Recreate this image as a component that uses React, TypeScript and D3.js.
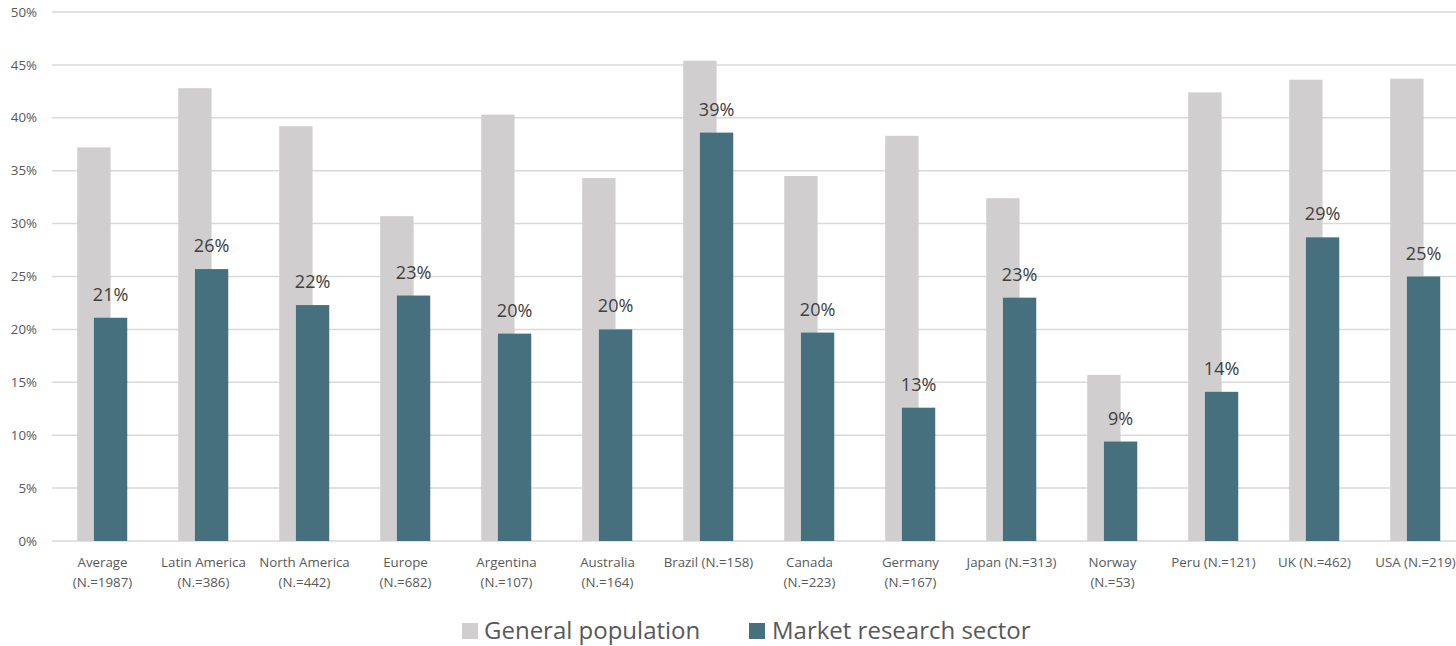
import React from 'react';
import * as d3 from 'd3';

const categories = [
  'Average (N.=1987)', 'Latin America (N.=386)', 'North America (N.=442)', 'Europe (N.=682)',
  'Argentina (N.=107)', 'Australia (N.=164)', 'Brazil (N.=158)', 'Canada (N.=223)',
  'Germany (N.=167)', 'Japan (N.=313)', 'Norway (N.=53)', 'Peru (N.=121)', 'UK (N.=462)', 'USA (N.=219)'
];

// how Excel wrapped the tick labels
const tickLines = [
  ['Average', '(N.=1987)'], ['Latin America', '(N.=386)'], ['North America', '(N.=442)'], ['Europe', '(N.=682)'],
  ['Argentina', '(N.=107)'], ['Australia', '(N.=164)'], ['Brazil (N.=158)'], ['Canada', '(N.=223)'],
  ['Germany', '(N.=167)'], ['Japan (N.=313)'], ['Norway', '(N.=53)'], ['Peru (N.=121)'], ['UK (N.=462)'], ['USA (N.=219)']
];

const generalPopulation = [0.372, 0.428, 0.392, 0.307, 0.403, 0.343, 0.454, 0.345, 0.383, 0.324, 0.157, 0.424, 0.436, 0.437];
const marketResearch = [0.211, 0.257, 0.223, 0.232, 0.196, 0.200, 0.386, 0.197, 0.126, 0.230, 0.094, 0.141, 0.287, 0.250];

const yTicks = [0, 0.05, 0.1, 0.15, 0.2, 0.25, 0.3, 0.35, 0.4, 0.45, 0.5];

const W = 1456;
const H = 646;
const GRAY = '#d0cece';
const TEAL = '#46707e';
const TEXT = '#595959';
const FONT = '"Open Sans", "Liberation Sans", sans-serif';

export default function App() {
  const x = d3.scaleBand<string>()
    .domain(categories)
    .range([52, 52 + 101 * categories.length])
    .padding(0);

  const y = d3.scaleLinear()
    .domain([0, 0.5])
    .range([541, 12]);

  const step = x.bandwidth();
  const barW = step * 0.33;
  const grayOff = step * 0.25;   // gray bar starts this far from band start
  const tealOff = grayOff + barW / 2;

  const pct = d3.format('.0%');

  return (
    <svg width={W} height={H} style={{ position: 'absolute', left: 0, top: 0, background: '#fff' }}>
      {/* grid */}
      {yTicks.map(t => (
        <g key={t}>
          <line x1={52} x2={W} y1={y(t)} y2={y(t)} stroke="#d9d9d9" strokeWidth={1.5} />
          <text x={37} y={y(t)} dy="0.35em" textAnchor="end" fontFamily={FONT} fontSize={13.3} fill={TEXT}>
            {pct(t)}
          </text>
        </g>
      ))}

      {/* bars */}
      {categories.map((c, i) => {
        const x0 = x(c)!;
        const gv = generalPopulation[i];
        const mv = marketResearch[i];
        return (
          <g key={c}>
            <rect x={x0 + grayOff} y={y(gv)} width={barW} height={y(0) - y(gv)} fill={GRAY} />
            <rect x={x0 + tealOff} y={y(mv)} width={barW} height={y(0) - y(mv)} fill={TEAL} />
            <text
              x={x0 + tealOff + barW / 2}
              y={y(mv) - 17}
              textAnchor="middle"
              fontFamily={FONT}
              fontSize={18}
              fill="#404040">
              {pct(mv)}
            </text>
          </g>
        );
      })}

      {/* x tick labels */}
      {categories.map((c, i) => (
        <text key={c} x={x(c)! + step / 2} y={567} textAnchor="middle" fontFamily={FONT} fontSize={13.3} fill={TEXT}>
          {tickLines[i].map((l, j) => (
            <tspan key={j} x={x(c)! + step / 2} dy={j === 0 ? 0 : 19.5}>{l}</tspan>
          ))}
        </text>
      ))}

      {/* legend */}
      <g fontFamily={FONT} fontSize={24} fill={TEXT}>
        <rect x={462} y={623} width={16} height={16} fill={GRAY} />
        <text x={484} y={639}>General population</text>
        <rect x={749} y={623} width={16} height={16} fill={TEAL} />
        <text x={772} y={639}>Market research sector</text>
      </g>
    </svg>
  );
}
